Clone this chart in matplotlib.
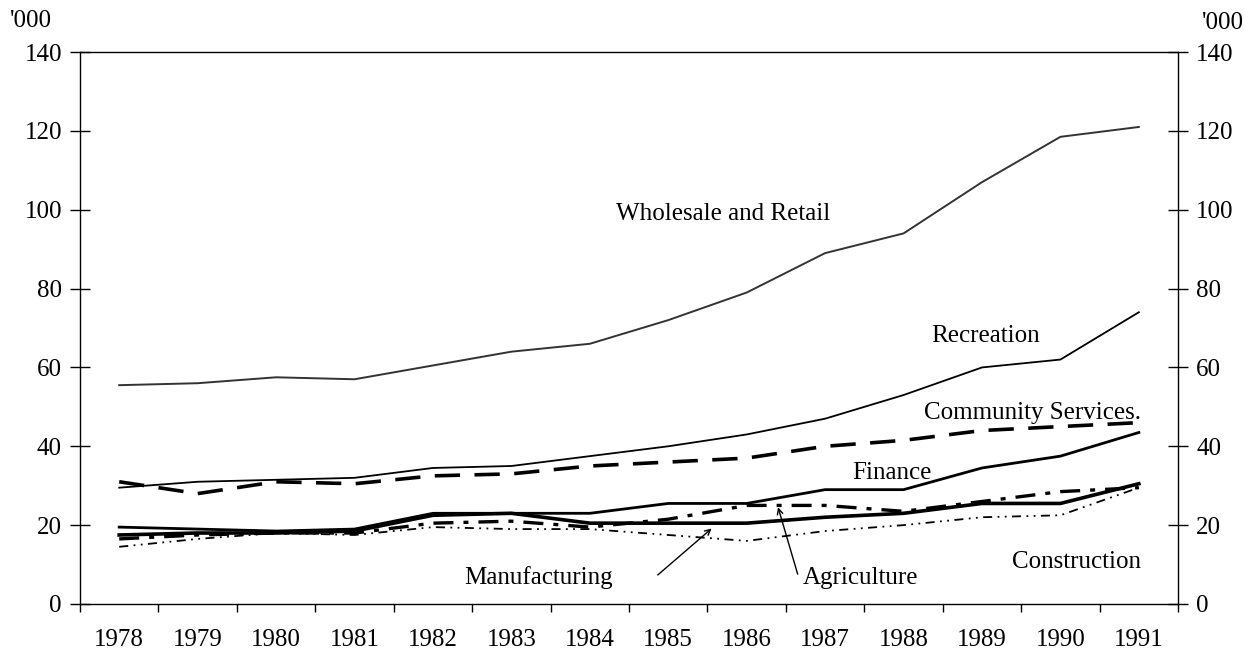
import numpy as np
import matplotlib
matplotlib.use('Agg')
import matplotlib.pyplot as plt
from matplotlib.ticker import FixedLocator, MultipleLocator

plt.rcParams['font.family'] = ['Liberation Serif', 'DejaVu Serif']

years = [1978, 1979, 1980, 1981, 1982, 1983, 1984,
         1985, 1986, 1987, 1988, 1989, 1990, 1991]
wholesale = [55.5, 56, 57.5, 57, 60.5, 64, 66, 72, 79, 89, 94, 107, 118.5, 121]
recreation = [29.5, 31, 31.5, 32, 34.5, 35, 37.5, 40, 43, 47, 53, 60, 62, 74]
community = [31, 28, 31, 30.5, 32.5, 33, 35, 36, 37, 40, 41.5, 44, 45, 46]
finance = [19.5, 19, 18.5, 19, 23, 23, 23, 25.5, 25.5, 29, 29, 34.5, 37.5, 43.5]
manufacturing = [17.5, 18, 18, 18.5, 22.5, 23, 20.5, 20.5, 20.5, 22, 23, 25.5, 25.5, 30.5]
agriculture = [16.5, 17.5, 18, 18, 20.5, 21, 19.5, 21.5, 25, 25, 23.5, 26, 28.5, 29.5]
construction = [14.5, 16.5, 18, 17.5, 19.5, 19, 19, 17.5, 16, 18.5, 20, 22, 22.5, 29.5]

x = np.arange(len(years))

fig = plt.figure(figsize=(12.44, 6.59), dpi=100)
ax = fig.add_axes([0.0643, 0.0835, 0.947 - 0.0643, 0.921 - 0.0835])

ax.plot(x, wholesale, color='#333333', lw=1.4)
ax.plot(x, recreation, color='black', lw=1.3)
ax.plot(x, community, color='black', lw=2.6, dashes=(7, 4))
ax.plot(x, finance, color='black', lw=2.0)
ax.plot(x, manufacturing, color='black', lw=2.6)
ax.plot(x, agriculture, color='black', lw=2.4, dashes=(6, 3, 1.5, 3))
ax.plot(x, construction, color='black', lw=1.3, dashes=(5, 3, 1, 3, 1, 3))

ax.set_xlim(-0.5, len(years) - 0.5)
ax.set_ylim(0, 140)

# category axis: ticks between years, labels in the middle
ax.xaxis.set_major_locator(FixedLocator(x))
ax.set_xticklabels([str(y) for y in years])
ax.xaxis.set_minor_locator(FixedLocator(np.arange(len(years) + 1) - 0.5))
ax.tick_params(axis='x', which='major', length=0, pad=18, labelsize=18)
ax.tick_params(axis='x', which='minor', direction='out', length=6, width=1)

ax.yaxis.set_major_locator(MultipleLocator(20))
ax.tick_params(axis='y', which='major', direction='inout', length=14, width=1,
               labelsize=18, pad=6, right=True, labelright=True)

for s in ax.spines.values():
    s.set_linewidth(1)

ax.text(-0.064, 1.056, "'000", transform=ax.transAxes, fontsize=18,
        ha='left', va='center')
ax.text(1.022, 1.052, "'000", transform=ax.transAxes, fontsize=18,
        ha='left', va='center')

ax.text(7.7, 99, 'Wholesale and Retail', fontsize=18, ha='center', va='center')
ax.text(11.05, 68, 'Recreation', fontsize=18, ha='center', va='center')
ax.text(11.65, 48.4, 'Community Services.', fontsize=18, ha='center', va='center')
ax.text(9.85, 33.2, 'Finance', fontsize=18, ha='center', va='center')
ax.text(12.2, 10.6, 'Construction', fontsize=18, ha='center', va='center')
ax.text(5.35, 6.8, 'Manufacturing', fontsize=18, ha='center', va='center')
ax.text(9.45, 6.6, 'Agriculture', fontsize=18, ha='center', va='center')

ax.annotate('', xy=(7.58, 19.6), xytext=(6.84, 6.9),
            arrowprops=dict(arrowstyle='->', color='black', lw=1))
ax.annotate('', xy=(8.39, 25.2), xytext=(8.66, 6.9),
            arrowprops=dict(arrowstyle='->', color='black', lw=1))

plt.savefig('out.png', dpi=100)
